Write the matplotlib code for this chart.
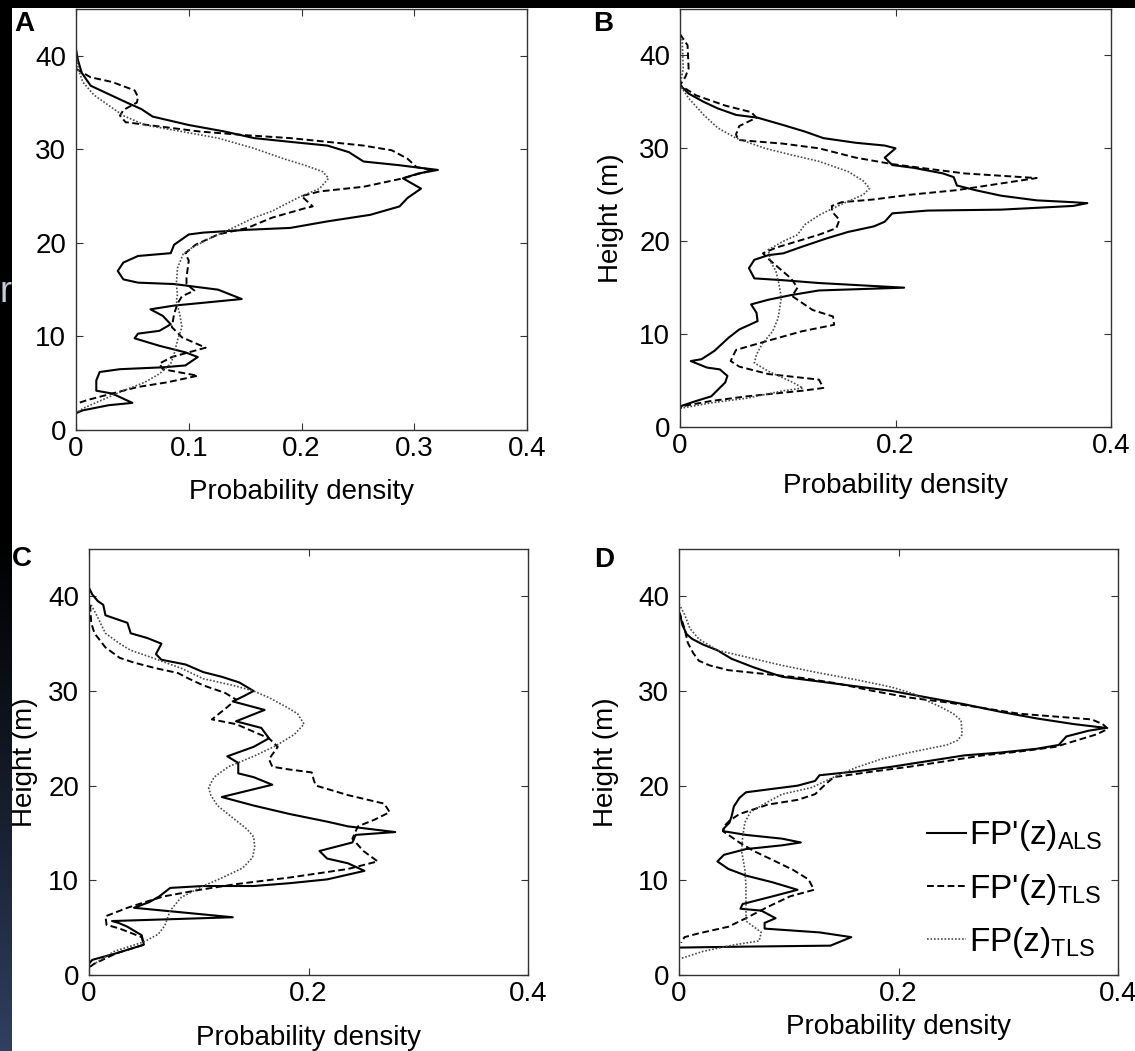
import numpy as np
import matplotlib
matplotlib.use("Agg")
import matplotlib.pyplot as plt
from matplotlib.patches import Rectangle

plt.rcParams['font.family'] = ['Liberation Sans', 'DejaVu Sans']
plt.rcParams['mathtext.fontset'] = 'custom'
plt.rcParams['mathtext.rm'] = 'Liberation Sans'

W, H = 1135, 1051

# ---- data (density, height) ----
# panel A
a_als_x = [0, 0.0016, 0.005, 0.013, 0.029, 0.045, 0.058, 0.068, 0.1, 0.132, 0.158, 0.19, 0.223, 0.242, 0.255, 0.287, 0.3, 0.321, 0.303, 0.29, 0.306, 0.294, 0.287, 0.261, 0.223, 0.19, 0.152, 0.113, 0.1, 0.087, 0.084, 0.055, 0.042, 0.037, 0.042, 0.055, 0.087, 0.126, 0.147, 0.113, 0.087, 0.066, 0.077, 0.084, 0.074, 0.055, 0.052, 0.074, 0.097, 0.108, 0.097, 0.077, 0.039, 0.021, 0.018, 0.018, 0.032, 0.05, 0.029, 0.006, 0]
a_als_h = [40.7, 39.6, 38.2, 36.8, 35.9, 35.0, 34.3, 33.5, 32.6, 31.9, 31.2, 30.8, 30.4, 29.7, 28.7, 28.3, 28.1, 27.8, 27.4, 26.9, 25.8, 24.8, 23.9, 23.0, 22.3, 21.6, 21.4, 21.1, 20.9, 19.8, 18.9, 18.6, 17.9, 17.0, 16.1, 15.75, 15.6, 15.0, 14.0, 13.6, 13.3, 12.9, 12.2, 11.3, 10.6, 10.3, 9.8, 9.0, 8.3, 7.8, 6.9, 6.7, 6.5, 6.2, 5.3, 4.2, 3.9, 2.9, 2.65, 2.1, 1.8]
a_tls_x = [0, 0.013, 0.032, 0.052, 0.055, 0.054, 0.042, 0.039, 0.044, 0.077, 0.11, 0.152, 0.19, 0.223, 0.255, 0.28, 0.294, 0.302, 0.316, 0.29, 0.255, 0.216, 0.2, 0.21, 0.203, 0.174, 0.152, 0.126, 0.106, 0.097, 0.1, 0.098, 0.098, 0.105, 0.094, 0.09, 0.087, 0.085, 0.094, 0.115, 0.085, 0.074, 0.077, 0.108, 0.081, 0.055, 0.032, 0.01, 0]
a_tls_h = [38.6, 37.7, 37.2, 36.3, 35.6, 35.0, 34.2, 33.6, 32.9, 32.4, 31.9, 31.5, 31.2, 30.8, 30.4, 29.9, 29.0, 28.1, 27.8, 26.9, 26.0, 25.5, 25.0, 23.9, 23.7, 22.7, 21.6, 20.9, 19.8, 18.9, 18.1, 16.3, 15.6, 14.9, 14.3, 13.5, 12.4, 11.0, 9.9, 8.8, 7.8, 7.1, 6.5, 5.8, 5.1, 4.6, 3.9, 3.2, 2.8]
a_fp_x = [0, 0.002, 0.006, 0.016, 0.029, 0.042, 0.061, 0.094, 0.126, 0.158, 0.184, 0.203, 0.219, 0.224, 0.216, 0.2, 0.19, 0.174, 0.158, 0.139, 0.119, 0.103, 0.095, 0.09, 0.089, 0.09, 0.089, 0.092, 0.094, 0.09, 0.087, 0.084, 0.074, 0.061, 0.042, 0.023, 0.006, 0]
a_fp_h = [40.4, 38.6, 37.2, 35.8, 34.7, 33.6, 32.6, 31.9, 31.2, 30.1, 29.0, 28.3, 27.6, 26.9, 25.8, 25.0, 24.4, 23.4, 22.7, 21.6, 20.5, 19.5, 18.8, 17.3, 15.6, 14.5, 13.8, 12.4, 11.0, 9.6, 8.1, 7.1, 6.0, 5.1, 4.2, 3.2, 2.3, 1.8]

# panel B
b_als_x = [0, 0.008, 0.022, 0.035, 0.052, 0.072, 0.096, 0.116, 0.133, 0.163, 0.19, 0.2, 0.19, 0.197, 0.217, 0.244, 0.254, 0.257, 0.274, 0.298, 0.331, 0.365, 0.378, 0.365, 0.298, 0.23, 0.197, 0.19, 0.18, 0.156, 0.136, 0.113, 0.096, 0.082, 0.069, 0.064, 0.069, 0.096, 0.129, 0.208, 0.129, 0.103, 0.082, 0.066, 0.071, 0.072, 0.055, 0.045, 0.032, 0.02, 0.01, 0.025, 0.037, 0.044, 0.042, 0.029, 0.015, 0.002, 0]
b_als_h = [36.8, 35.9, 35.0, 34.3, 33.6, 33.3, 32.5, 31.8, 31.1, 30.6, 30.3, 30.0, 29.0, 28.2, 27.9, 27.3, 26.9, 26.0, 25.5, 24.9, 24.4, 24.2, 24.1, 23.8, 23.4, 23.3, 23.0, 22.1, 21.6, 21.0, 20.3, 19.4, 18.7, 18.5, 18.0, 17.1, 16.0, 15.8, 15.5, 15.0, 14.7, 14.2, 13.7, 13.2, 12.3, 11.4, 10.5, 9.6, 8.2, 7.3, 7.1, 6.4, 6.2, 5.5, 4.8, 3.3, 2.8, 2.3, 2.0]
b_tls_x = [0, 0.007, 0.008, 0.005, 0, 0.015, 0.042, 0.066, 0.071, 0.055, 0.052, 0.054, 0.096, 0.129, 0.163, 0.197, 0.23, 0.264, 0.331, 0.257, 0.213, 0.18, 0.15, 0.141, 0.141, 0.148, 0.145, 0.129, 0.109, 0.089, 0.077, 0.081, 0.092, 0.103, 0.109, 0.104, 0.123, 0.142, 0.143, 0.113, 0.079, 0.052, 0.047, 0.055, 0.082, 0.129, 0.133, 0.113, 0.062, 0.029, 0.005, 0]
b_tls_h = [42.3, 41.1, 38.6, 37.7, 36.8, 35.7, 34.6, 33.9, 33.3, 32.4, 31.5, 30.9, 30.5, 30.0, 29.0, 28.3, 27.8, 27.3, 26.8, 25.5, 25.0, 24.5, 24.2, 23.8, 23.2, 22.3, 21.4, 20.7, 20.0, 19.3, 18.7, 18.2, 17.1, 16.0, 15.0, 14.1, 12.6, 11.9, 11.0, 10.3, 9.2, 8.3, 7.1, 6.5, 5.7, 5.1, 4.2, 3.9, 3.3, 2.8, 2.3, 2.0]
b_fp_x = [0.002, 0.003, 0, 0.008, 0.022, 0.035, 0.052, 0.079, 0.103, 0.129, 0.156, 0.17, 0.176, 0.17, 0.156, 0.143, 0.129, 0.116, 0.109, 0.096, 0.082, 0.084, 0.089, 0.092, 0.094, 0.091, 0.086, 0.076, 0.071, 0.069, 0.082, 0.103, 0.114, 0.096, 0.062, 0.029, 0]
b_fp_h = [41.8, 38.6, 36.8, 35.4, 33.6, 32.2, 31.1, 30.0, 29.3, 28.6, 27.5, 26.5, 25.7, 25.0, 24.3, 23.6, 22.8, 21.8, 20.7, 20.0, 19.1, 17.8, 16.8, 15.3, 13.9, 11.7, 10.3, 8.9, 7.8, 6.9, 6.0, 4.9, 4.2, 3.9, 3.1, 2.6, 2.0]

# panel C
c_als_x = [0, 0.003, 0.008, 0.013, 0.015, 0.035, 0.038, 0.053, 0.066, 0.061, 0.066, 0.088, 0.104, 0.121, 0.137, 0.15, 0.14, 0.131, 0.16, 0.134, 0.157, 0.164, 0.15, 0.126, 0.136, 0.136, 0.15, 0.167, 0.121, 0.15, 0.183, 0.217, 0.236, 0.279, 0.243, 0.24, 0.21, 0.217, 0.236, 0.251, 0.217, 0.183, 0.15, 0.104, 0.074, 0.064, 0.055, 0.041, 0.131, 0.021, 0.027, 0.035, 0.048, 0.05, 0.025, 0.003, 0]
c_als_h = [40.9, 40.2, 39.5, 39.1, 38.0, 37.2, 36.1, 35.6, 35.0, 33.9, 33.3, 32.8, 32.0, 31.5, 30.9, 30.0, 29.4, 28.9, 28.0, 26.8, 26.1, 25.0, 24.1, 23.1, 22.4, 21.3, 20.9, 20.1, 18.8, 17.9, 17.0, 16.2, 15.7, 15.1, 14.8, 14.0, 13.1, 12.3, 11.8, 11.0, 10.1, 9.7, 9.4, 9.4, 9.2, 8.3, 7.7, 7.1, 6.1, 5.7, 5.5, 5.1, 4.2, 3.2, 2.3, 1.6, 1.2]
c_tls_x = [0.001, 0.002, 0.005, 0.015, 0.028, 0.041, 0.061, 0.081, 0.091, 0.104, 0.124, 0.134, 0.126, 0.112, 0.134, 0.15, 0.164, 0.172, 0.164, 0.167, 0.183, 0.203, 0.205, 0.207, 0.236, 0.269, 0.274, 0.26, 0.245, 0.24, 0.25, 0.263, 0.236, 0.183, 0.134, 0.101, 0.068, 0.051, 0.035, 0.015, 0.016, 0.028, 0.048, 0.05, 0.025, 0.005, 0]
c_tls_h = [39.1, 37.2, 36.1, 34.6, 33.5, 33.0, 32.4, 31.9, 31.3, 30.6, 29.8, 29.1, 28.3, 27.0, 26.5, 25.7, 25.0, 24.1, 22.8, 22.0, 21.7, 21.4, 20.5, 20.0, 19.0, 18.1, 17.2, 16.4, 15.7, 14.4, 13.1, 12.0, 11.2, 10.3, 9.6, 9.0, 8.3, 7.7, 7.1, 6.2, 5.3, 4.9, 4.0, 3.2, 2.3, 1.2, 0.8]
c_fp_x = [0.002, 0.007, 0.015, 0.028, 0.038, 0.058, 0.084, 0.104, 0.131, 0.15, 0.164, 0.18, 0.19, 0.196, 0.187, 0.17, 0.15, 0.127, 0.114, 0.109, 0.111, 0.117, 0.131, 0.144, 0.15, 0.151, 0.149, 0.14, 0.12, 0.104, 0.084, 0.074, 0.069, 0.063, 0.05, 0.023, 0.005]
c_fp_h = [39.1, 38.0, 36.1, 35.0, 34.3, 33.5, 32.4, 31.3, 30.6, 30.0, 29.3, 28.3, 27.6, 26.5, 25.4, 24.2, 23.1, 22.0, 20.9, 19.8, 19.0, 17.9, 16.6, 15.4, 14.6, 13.5, 12.4, 11.3, 10.2, 9.4, 8.2, 6.8, 5.2, 4.3, 3.5, 2.5, 1.2]

# panel D
d_als_x = [0.001, 0.003, 0.007, 0.012, 0.022, 0.035, 0.048, 0.068, 0.094, 0.128, 0.161, 0.194, 0.227, 0.26, 0.293, 0.326, 0.36, 0.389, 0.373, 0.353, 0.346, 0.326, 0.293, 0.26, 0.227, 0.194, 0.161, 0.128, 0.124, 0.108, 0.081, 0.061, 0.055, 0.05, 0.048, 0.046, 0.041, 0.04, 0.061, 0.094, 0.111, 0.094, 0.061, 0.041, 0.035, 0.045, 0.061, 0.085, 0.108, 0.085, 0.058, 0.056, 0.075, 0.088, 0.078, 0.078, 0.128, 0.157, 0.138, 0.061, 0.002, 0]
d_als_h = [38.1, 37.0, 36.0, 35.5, 34.9, 34.3, 33.4, 32.5, 31.5, 31.0, 30.5, 30.0, 29.3, 28.6, 27.8, 27.1, 26.5, 26.1, 25.8, 25.2, 24.3, 23.9, 23.5, 23.2, 22.6, 22.0, 21.5, 21.1, 20.5, 20.0, 19.6, 19.3, 18.7, 17.8, 16.8, 16.1, 15.5, 15.2, 14.8, 14.4, 14.0, 13.7, 13.3, 12.7, 12.0, 11.2, 10.5, 9.8, 9.0, 8.3, 7.5, 7.0, 6.8, 6.0, 5.5, 4.9, 4.5, 4.0, 3.1, 3.0, 2.9, 2.9]
d_tls_x = [0, 0.005, 0.008, 0.013, 0.018, 0.028, 0.045, 0.078, 0.111, 0.144, 0.177, 0.21, 0.244, 0.277, 0.31, 0.343, 0.376, 0.386, 0.391, 0.38, 0.36, 0.343, 0.31, 0.277, 0.244, 0.21, 0.177, 0.141, 0.134, 0.124, 0.108, 0.081, 0.055, 0.046, 0.041, 0.04, 0.055, 0.068, 0.088, 0.104, 0.118, 0.123, 0.101, 0.081, 0.061, 0.045, 0.018, 0.005, 0.002]
d_tls_h = [38.4, 36.6, 35.1, 34.0, 33.2, 32.7, 32.2, 31.8, 31.4, 30.8, 30.0, 29.3, 28.8, 28.2, 27.6, 27.3, 27.0, 26.5, 26.0, 25.4, 24.7, 24.1, 23.6, 23.2, 22.6, 22.0, 21.5, 20.9, 20.2, 19.1, 18.5, 18.0, 17.0, 16.3, 15.7, 15.2, 14.0, 13.1, 12.0, 11.1, 10.1, 9.0, 8.3, 7.2, 6.0, 5.1, 4.4, 4.0, 3.4]
d_fp_x = [0, 0.005, 0.01, 0.018, 0.035, 0.061, 0.094, 0.128, 0.161, 0.194, 0.214, 0.227, 0.237, 0.25, 0.257, 0.258, 0.254, 0.244, 0.21, 0.184, 0.161, 0.141, 0.121, 0.094, 0.078, 0.065, 0.06, 0.058, 0.057, 0.06, 0.061, 0.061, 0.061, 0.068, 0.075, 0.073, 0.051, 0.022, 0.002]
d_fp_h = [39.2, 38.1, 36.6, 35.5, 34.3, 33.6, 32.7, 31.9, 31.2, 30.4, 29.7, 28.9, 28.4, 27.6, 26.9, 25.4, 24.8, 24.3, 23.5, 22.8, 21.9, 20.9, 19.8, 19.1, 18.1, 17.2, 16.1, 14.6, 13.1, 11.2, 9.4, 7.5, 5.7, 5.1, 4.5, 3.6, 3.2, 2.5, 1.75]

series_labels = ["FP'(z)$_{\\mathregular{ALS}}$", "FP'(z)$_{\\mathregular{TLS}}$", "FP(z)$_{\\mathregular{TLS}}$"]

panels = {
    'A': (a_als_x, a_als_h, a_tls_x, a_tls_h, a_fp_x, a_fp_h),
    'B': (b_als_x, b_als_h, b_tls_x, b_tls_h, b_fp_x, b_fp_h),
    'C': (c_als_x, c_als_h, c_tls_x, c_tls_h, c_fp_x, c_fp_h),
    'D': (d_als_x, d_als_h, d_tls_x, d_tls_h, d_fp_x, d_fp_h),
}

# axes boxes in pixels: left, top, right, bottom
boxes = {
    'A': (76, 9, 527, 430),
    'B': (680, 9, 1111, 427),
    'C': (89, 549, 528, 975),
    'D': (679, 549, 1118, 975),
}
xticks = {'A': [0, 0.1, 0.2, 0.3, 0.4], 'B': [0, 0.2, 0.4], 'C': [0, 0.2, 0.4], 'D': [0, 0.2, 0.4]}
xlabel_y = {'A': 492, 'B': 486, 'C': 1038, 'D': 1027}
ylabel_x = {'B': 611, 'C': 25, 'D': 606}
letter_pos = {'A': (24, 24), 'B': (603, 24), 'C': (22, 559), 'D': (604, 560)}

styles = [
    dict(color='black', lw=1.5, ls='-'),
    dict(color='black', lw=1.4, ls=(0, (3.5, 1.8))),
    dict(color='#4a4a4a', lw=1.2, ls=(0, (1, 1.1))),
]

fig = plt.figure(figsize=(W / 100, H / 100), dpi=100)
fig.patch.set_facecolor('white')

for key, data in panels.items():
    l, t, r, b = boxes[key]
    ax = fig.add_axes([l / W, 1 - b / H, (r - l) / W, (b - t) / H])
    for i in range(3):
        ax.plot(data[2 * i], data[2 * i + 1], label=series_labels[i], **styles[i])
    ax.set_xlim(0, 0.4)
    ax.set_ylim(0, 45)
    ax.set_xticks(xticks[key])
    ax.set_xticklabels(['0' if v == 0 else '%g' % v for v in xticks[key]])
    ax.set_yticks([0, 10, 20, 30, 40])
    ax.tick_params(direction='in', top=True, right=True, length=5, width=0.8,
                   labelsize=20, color='#333333')
    ax.tick_params(axis='x', pad=4)
    ax.tick_params(axis='y', pad=7)
    for s in ax.spines.values():
        s.set_linewidth(1.0)
        s.set_color('#333333')
    ax.set_xlabel('Probability density', fontsize=20, va='center')
    ax.xaxis.set_label_coords(0.5, -(xlabel_y[key] - b) / (b - t))
    if key in ylabel_x:
        ax.set_ylabel('Height (m)', fontsize=20, va='center')
        ax.yaxis.set_label_coords(-(l - ylabel_x[key]) / (r - l), 0.5)
    lx, ly = letter_pos[key]
    fig.text(lx / W, 1 - ly / H, key, fontsize=20, fontweight='bold', ha='center', va='center')
    if key == 'D':
        ax.legend(loc='lower left', bbox_to_anchor=(0.566, 0.035), frameon=False,
                  fontsize=24, handlelength=1.15, handletextpad=0.1, labelspacing=0.55,
                  borderpad=0, borderaxespad=0)

# slide background bits: black band on top, dark strip on the left
fig.add_artist(Rectangle((0, 1 - 8 / H), 1, 8 / H, transform=fig.transFigure,
                         facecolor='black', edgecolor='none', zorder=10))
strip = fig.add_axes([0, 0, 12 / W, 1 - 8 / H], zorder=10)
tt = np.clip((np.linspace(0, 1, 400) - 0.5) / 0.5, 0, 1) ** 1.2
grad = np.zeros((400, 1, 3))
grad[:, 0, 0] = tt * 48 / 255
grad[:, 0, 1] = tt * 64 / 255
grad[:, 0, 2] = tt * 96 / 255
strip.imshow(grad, aspect='auto', extent=(0, 1, 0, 1))
strip.set_xlim(0, 1)
strip.set_ylim(0, 1)
strip.axis('off')
strip.text(-0.05, 1 - 294 / (H - 8), 'r', fontsize=26, color='#c8ccd6',
           transform=strip.transAxes, va='baseline', ha='left', clip_on=True)

fig.savefig('out.png', dpi=100, facecolor='white')
